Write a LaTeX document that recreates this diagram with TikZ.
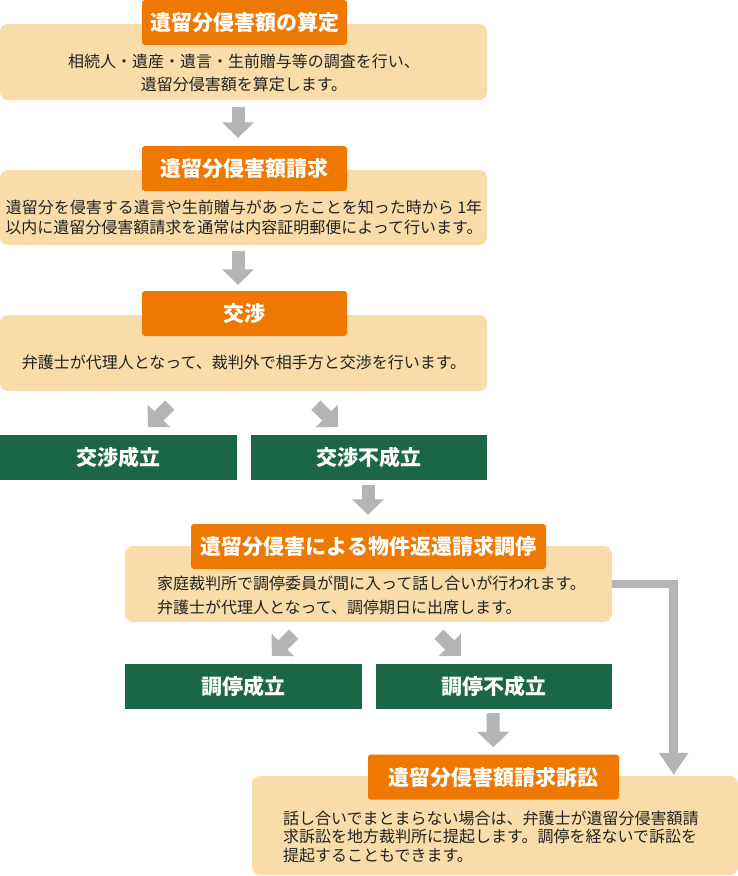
\documentclass[tikz,border=0pt]{standalone}
\usepackage{fontspec}
\setmainfont{Noto Sans CJK JP}
\usetikzlibrary{arrows.meta,calc}
\definecolor{orng}{HTML}{EE7800}
\definecolor{beige}{HTML}{F9DCA9}
\definecolor{grn}{HTML}{1B6647}
\definecolor{gry}{HTML}{B4B4B4}
\definecolor{txt}{HTML}{222222}
\begin{document}
\begin{tikzpicture}[x=1pt,y=-1pt,
  beigebox/.style={fill=beige, rounded corners=8pt, inner sep=0pt, minimum width=487pt},
  titlebox/.style={fill=orng, rounded corners=3pt, inner sep=0pt, minimum height=45pt, text=white, font=\fontsize{21}{21}\selectfont\bfseries},
  greenbox/.style={fill=grn, inner sep=0pt, minimum width=236pt, minimum height=45pt, text=white, font=\fontsize{21}{21}\selectfont\bfseries},
  body/.style={inner sep=0pt, text=txt},
  garrow/.style={draw=gry, line width=13pt, -{Triangle[width=31pt,length=15.5pt]}},
  elbow/.style={draw=gry, line width=8.5pt, line join=miter, -{Triangle[width=28pt,length=22pt]}}
]
\fill[white] (0,0) rectangle (738,876);
\useasboundingbox (0,0) rectangle (738,876);

% box 1
\node[beigebox, minimum height=76pt] (b1) at (243.5,62) {};
\node[titlebox, minimum width=205pt] (o1) at (244.5,22.5) {遺留分侵害額の算定};
\node[body, align=center, font=\fontsize{16}{23}\selectfont] (t1) at (244,73) {相続人・遺産・遺言・生前贈与等の調査を行い、\\遺留分侵害額を算定します。};

% box 2
\node[beigebox, minimum height=75pt] (b2) at (243.5,207.5) {};
\node[titlebox, minimum width=205pt] (o2) at (244.5,168.5) {遺留分侵害額請求};
\node[body, align=center, font=\fontsize{16}{20}\selectfont] (t2) at (244,217.5) {遺留分を侵害する遺言や生前贈与があったことを知った時から 1年\\以内に遺留分侵害額請求を通常は内容証明郵便によって行います。};

% box 3
\node[beigebox, minimum height=76pt] (b3) at (243.5,353) {};
\node[titlebox, minimum width=205pt] (o3) at (244.5,313.5) {交渉};
\node[body, font=\fontsize{16}{20}\selectfont] (t3) at (244,362) {弁護士が代理人となって、裁判外で相手方と交渉を行います。};

% green 1,2
\node[greenbox, minimum width=237pt] (g1) at (118.5,457.5) {交渉成立};
\node[greenbox] (g2) at (369,457.5) {交渉不成立};

% box 4
\node[beigebox, minimum height=76pt] (b4) at (368.5,584) {};
\node[titlebox, minimum width=355pt] (o4) at (368.5,546.5) {遺留分侵害による物件返還請求調停};
\node[body, anchor=west, align=left, font=\fontsize{16}{24}\selectfont] (t4) at (157,595) {家庭裁判所で調停委員が間に入って話し合いが行われます。\\弁護士が代理人となって、調停期日に出席します。};

% green 3,4
\node[greenbox, minimum width=237pt] (g3) at (243.5,686.5) {調停成立};
\node[greenbox] (g4) at (494,686.5) {調停不成立};

% box 5
\node[beigebox, minimum width=486pt, minimum height=99pt] (b5) at (495,825.5) {};
\node[titlebox, minimum width=251pt] (o5) at (493.5,777) {遺留分侵害額請求訴訟};
\node[body, anchor=west, align=left, font=\fontsize{16}{18.5}\selectfont] (t5) at (283,836.5) {話し合いでまとまらない場合は、弁護士が遺留分侵害額請\\求訴訟を地方裁判所に提起します。調停を経ないで訴訟を\\提起することもできます。};

% arrows
\draw[garrow, shorten <=7pt, shorten >=8pt] ([xshift=-5.5pt]b1.south) -- ([xshift=-6.5pt]o2.north);
\draw[garrow, shorten <=6pt, shorten >=6pt] ([xshift=-5.5pt]b2.south) -- ([xshift=-6.5pt]o3.north);
\draw[garrow, shorten <=19.8pt, shorten >=11.3pt] ([xshift=184pt]b3.south west) -- ([xshift=140pt]g1.north west);
\draw[garrow, shorten <=19.8pt, shorten >=11.3pt] ([xshift=302pt]b3.south west) -- ([xshift=95pt]g2.north west);
\draw[garrow, shorten <=5pt, shorten >=9pt] ([xshift=-1pt]g2.south) -- ([xshift=-0.5pt]o4.north);
\draw[garrow, shorten <=17pt, shorten >=11.3pt] ([xshift=181pt]b4.south west) -- ([xshift=139pt]g3.north west);
\draw[garrow, shorten <=17pt, shorten >=11.3pt] ([xshift=302pt]b4.south west) -- ([xshift=93pt]g4.north west);
\draw[garrow, shorten <=4pt, shorten >=7pt] ([xshift=-1pt]g4.south) -- (o5.north);
\draw[elbow, shorten >=1pt] (b4.east) -| ([xshift=-64.5pt]b5.north east);
\end{tikzpicture}
\end{document}
